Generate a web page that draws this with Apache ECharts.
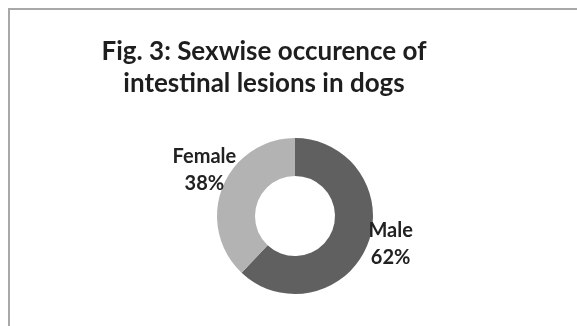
<!DOCTYPE html>
<html>
<head>
<meta charset="utf-8">
<script src="https://cdn.jsdelivr.net/npm/echarts@6/dist/echarts.min.js"></script>
<style>
html,body{margin:0;padding:0;background:#fff;}
#chart{width:577px;height:326px;}
</style>
</head>
<body>
<div id="chart"></div>
<script>
const titleLines = ['Fig. 3: Sexwise occurence of', 'intestinal lesions in dogs'];
const categories = ['Male', 'Female'];
const values = [62, 38];
const colors = ['#606060', '#b3b3b3'];
const labelOffsets = [[38, 5], [-33, -23]];

const chart = echarts.init(document.getElementById('chart'), null, {renderer: 'canvas'});
chart.setOption({
  animation: false,
  backgroundColor: '#ffffff',
  graphic: [{
    type: 'rect',
    shape: {x: 9, y: 9, width: 600, height: 400},
    style: {fill: 'none', stroke: '#a8a8a8', lineWidth: 2},
    silent: true, z: -1
  }],
  title: {
    text: titleLines.join('\n'),
    left: 259, top: 31, textAlign: 'center',
    textStyle: {fontFamily: 'Lato', fontWeight: 'bold', fontSize: 26, lineHeight: 32, color: '#1e1e1e'}
  },
  series: [{
    type: 'pie',
    center: [295, 216],
    radius: [40, 78],
    startAngle: 90,
    clockwise: true,
    data: categories.map((c, i) => ({
      name: c, value: values[i],
      itemStyle: {color: colors[i]},
      label: {offset: labelOffsets[i]}
    })),
    label: {
      show: true,
      position: 'inside',
      formatter: p => p.name + '\n' + Math.round(p.percent) + '%',
      fontFamily: 'Lato', fontWeight: 'bold', fontSize: 20, lineHeight: 27,
      color: '#222', align: 'center'
    },
    labelLine: {show: false},
    emphasis: {disabled: true}
  }]
});
</script>
</body>
</html>
